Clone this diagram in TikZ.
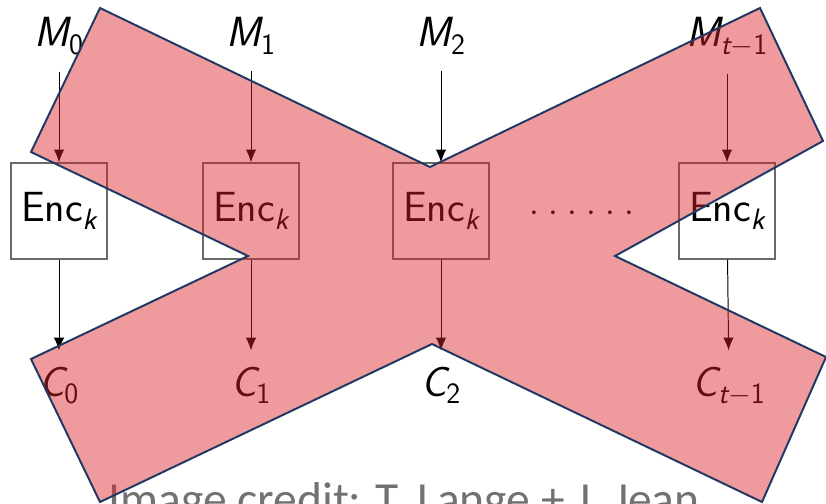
\documentclass[tikz,border=0pt]{standalone}
\usepackage{fontspec}
\usepackage{tikz}
\usetikzlibrary{arrows.meta}
\newfontfamily\creditfont{Carlito}
\definecolor{crossred}{RGB}{220, 33, 40}
\definecolor{crossnavy}{RGB}{31, 56, 100}
\definecolor{boxgray}{RGB}{105, 105, 105}
\definecolor{creditgray}{RGB}{118, 113, 113}
\tikzstyle{encbox} = [
    rectangle,
    minimum width=2.4cm,
    minimum height=2.4cm,
    inner sep=0pt,
    draw=boxgray,
    line width=0.9pt,
    font=\sffamily\fontsize{30}{36}\selectfont
]
\tikzstyle{blocklabel} = [
    anchor=base,
    inner sep=0.4cm,
    font=\sffamily\fontsize{30}{36}\selectfont
]
\tikzstyle{arrow} = [
    line width=0.7pt,
    -{Latex[length=3.2mm, width=2.6mm]}
]
\tikzstyle{cross} = [
    fill=crossred,
    fill opacity=0.45,
    draw=crossnavy,
    line width=1.4pt,
    line join=miter
]

\begin{document}
\begin{tikzpicture}[x=0.025cm, y=-0.025cm]
        \useasboundingbox (0,0) rectangle (826,504);

        % Plaintext blocks
        \node[blocklabel] (m0) at (59, 47) {{\itshape M}\textsubscript{0}};
        \node[blocklabel] (m1) at (251, 47) {{\itshape M}\textsubscript{1}};
        \node[blocklabel] (m2) at (441, 47) {{\itshape M}\textsubscript{2}};
        \node[blocklabel] (mlast) at (727, 47) {{\itshape M}\textsubscript{{\itshape t}$-$1}};

        % Block cipher calls
        \node[encbox] (enc0) at (59, 211) {Enc\textsubscript{\itshape k}};
        \node[encbox] (enc1) at (251, 211) {Enc\textsubscript{\itshape k}};
        \node[encbox] (enc2) at (441, 211) {Enc\textsubscript{\itshape k}};
        \node[encbox] (enclast) at (727, 211) {Enc\textsubscript{\itshape k}};
        \node[anchor=base, inner sep=0pt, font=\fontsize{28}{34}\selectfont] (dots) at (582, 221)
            {\makebox[2.63cm]{$\cdot$\hfill$\cdot$\hfill$\cdot$\hfill$\cdot$\hfill$\cdot$\hfill$\cdot$}};

        % Ciphertext blocks
        \node[blocklabel] (c0) at (59, 396) {{\itshape C}\textsubscript{0}};
        \node[blocklabel] (c1) at (251, 396) {{\itshape C}\textsubscript{1}};
        \node[blocklabel] (c2) at (441, 396) {{\itshape C}\textsubscript{2}};
        \node[blocklabel] (clast) at (729, 396) {{\itshape C}\textsubscript{{\itshape t}$-$1}};

        % Arrows
        \draw[arrow] (m0) -- (enc0);
        \draw[arrow] (m1) -- (enc1);
        \draw[arrow] (m2) -- (enc2);
        \draw[arrow] (mlast) -- (enclast);
        \draw[arrow] (enc0) -- (c0);
        \draw[arrow] (enc1) -- (c1);
        \draw[arrow] (enc2) -- (c2);
        \draw[arrow] (enclast) -- (clast);

        % Credit
        \node[anchor=base west, inner sep=0pt, text=creditgray, font=\creditfont\fontsize{33.8}{40}\selectfont] (credit) at (108, 515) {Image credit: T. Lange + J. Jean};

        % Cross
        \draw[cross] (100, 8) -- (430, 167) -- (760, 8) -- (823, 141) -- (615, 256) -- (826, 357)
            -- (762, 502) -- (432, 344) -- (100, 502) -- (31, 359) -- (248, 256) -- (31, 152) -- cycle;
    \end{tikzpicture}
\end{document}
